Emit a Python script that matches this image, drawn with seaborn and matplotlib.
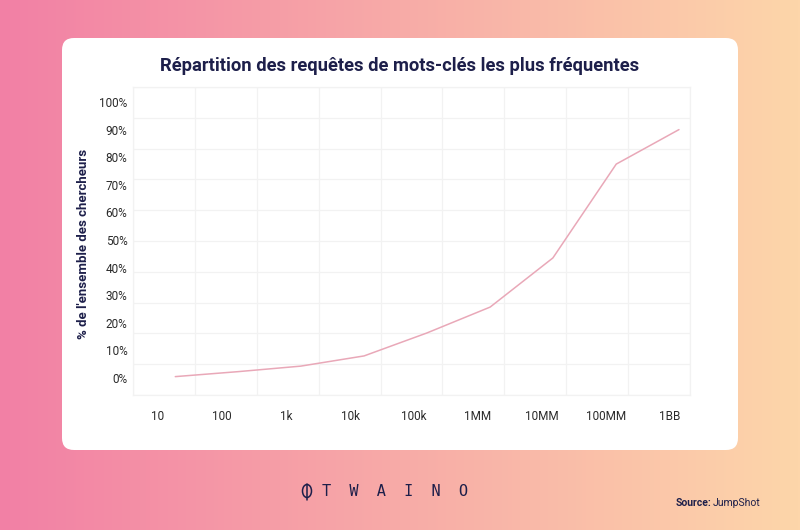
import numpy as np
import pandas as pd
import matplotlib
matplotlib.use("Agg")
import matplotlib.pyplot as plt
from matplotlib import font_manager as fm
from matplotlib.patches import FancyBboxPatch, Ellipse
import seaborn as sns

# data
x_labels = ['10', '100', '1k', '10k', '100k', '1MM', '10MM', '100MM', '1BB']
x_pos = [1.27, 2.25, 3.23, 4.22, 5.20, 6.19, 7.17, 8.16, 9.14]
share = [0.5, 2.3, 4.3, 8.0, 16.3, 25.7, 43.5, 77.5, 90.0]
y_ticks = [0, 10, 20, 30, 40, 50, 60, 70, 80, 90, 100]

df = pd.DataFrame({'pos': x_pos, 'share': share})

sns.set_theme(style="white")
names = {f.name for f in fm.fontManager.ttflist}
narrow = 'Liberation Sans Narrow' if 'Liberation Sans Narrow' in names else 'Roboto'
plt.rcParams['font.family'] = ['Roboto', 'DejaVu Sans']

navy = '#1d1f4a'
grid_c = '#f2f2f2'

fig = plt.figure(figsize=(8, 5.3), dpi=100)

# background gradient + white card (pixel coordinates)
bg = fig.add_axes([0, 0, 1, 1], zorder=-2)
t = np.linspace(0, 1, 400)
c0 = np.array([242, 128, 165]) / 255
c1 = np.array([253, 214, 170]) / 255
grad = (c0[None, :] * (1 - t[:, None]) + c1[None, :] * t[:, None])[None, :, :]
bg.imshow(grad, extent=[0, 800, 530, 0], aspect='auto')
bg.set_xlim(0, 800)
bg.set_ylim(530, 0)
bg.axis('off')
card = FancyBboxPatch((62, 38), 676, 412, boxstyle="round,pad=0,rounding_size=12",
                      fc='white', ec='none')
bg.add_patch(card)

bg.text(400, 66, 'Répartition des requêtes de mots-clés les plus fréquentes',
        ha='center', va='center', fontsize=13.2, fontweight='bold', color=navy)

# logo
bg.add_patch(Ellipse((307, 491), 9, 13, fc='none', ec=navy, lw=1.1))
bg.plot([307, 307], [484, 500], color=navy, lw=1.1)
bg.text(322, 492, 'T  W  A  I  N  O', ha='left', va='center', fontsize=11,
        color=navy, family='DejaVu Sans Mono')
bg.text(676, 503, 'Source:', ha='left', va='center', fontsize=7.5,
        fontweight='bold', color=navy)
bg.text(713, 503, 'JumpShot', ha='left', va='center', fontsize=7.5, color=navy)

# main plot
ax = fig.add_axes([133 / 800, 1 - 395 / 530, 557 / 800, 308 / 530])
ylo, yhi = (378 - 395) / 2.76, (378 - 87) / 2.76
xlo, xhi = 1 + (133 - 158) / 64, 1 + (690 - 158) / 64

sns.lineplot(data=df, x='pos', y='share', ax=ax, color='#e9a8b8', lw=1.1)

ax.set_xlim(xlo, xhi)
ax.set_ylim(ylo, yhi)
ax.set_xticks(range(1, 10))
ax.set_xticklabels(x_labels)
ax.set_yticks(y_ticks)
ax.set_yticklabels([f'{v}%' for v in y_ticks])
ax.set_xticks(np.linspace(xlo, xhi, 10), minor=True)
ax.set_yticks(np.linspace(ylo, yhi, 11), minor=True)
ax.grid(False)
ax.grid(which='minor', color=grid_c, lw=0.9)
ax.tick_params(which='both', length=0)
ax.tick_params(axis='x', pad=11, labelsize=8.5, labelcolor='#2a2a2a')
ax.tick_params(axis='y', pad=4, labelsize=8.5, labelcolor='#2a2a2a')
for lab in ax.get_xticklabels() + ax.get_yticklabels():
    lab.set_family(narrow)
for s in ax.spines.values():
    s.set_color(grid_c)
    s.set_linewidth(0.9)
ax.set_xlabel('')
ax.set_ylabel("% de l'ensemble des chercheurs", fontsize=9.5, fontweight='bold', color=navy)
ax.yaxis.set_label_coords(-(133 - 90) / 557, (395 - 244) / 308)

fig.savefig('out.png', dpi=100)
